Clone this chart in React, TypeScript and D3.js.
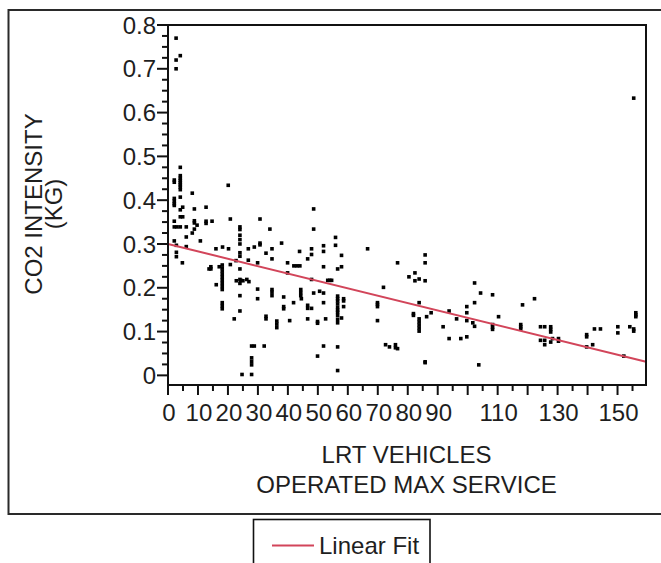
import React from "react";
import * as d3 from "d3";

// Scatter data: [LRT vehicles operated max service, CO2 intensity (kg)]
const pointsX: number[] = [
  2.7, 2.7, 4.1, 2.7, 4.1, 2.1, 2.1, 4.1, 4.1, 4.1, 4.1, 4.1, 4.1, 4.1, 8.1, 20.1,
  2.1, 2.1, 2.1, 2.1, 4.1, 4.9, 4.1, 4.1, 4.9, 2.1, 8.8, 12.7,
  2.1, 3.0, 4.1, 6.1, 8.8, 8.8, 12.7, 12.7, 14.7, 20.8,
  9.7, 8.8, 8.1, 6.1, 10.8, 2.1, 2.8, 2.8, 2.8, 6.1, 4.8, 16, 18.2, 20.2,
  18.1, 18.1, 18.1, 18.1, 18.1, 18.1, 18.1, 18.1, 18.1, 18.1, 18.1, 18.1,
  16.1, 14.3, 14.3, 13.7, 17.1, 22.1, 20.8, 22.7, 22.8, 24.3, 25, 26.3, 27,
  24, 24, 24, 24, 24, 24, 24, 24, 24, 24, 24, 24,
  30.7, 30.7, 30.7, 34, 26.8, 28.8, 32.7, 34.7, 34.7, 26.8, 29.9,
  29.9, 29.9, 32.7, 32.7, 34.7, 34.7, 34.7,
  36.3, 36.3, 36.3, 37.9, 38.6, 38.6, 38.6, 39.9, 39.9, 40.6, 41.9,
  42, 43, 44, 43.9, 44.3, 44.3, 44.3, 44.5,
  46.6, 46.6, 46.6, 47.9, 46.6, 47.9, 47.9, 47.9, 48.6, 48.6, 48.6, 49.9, 49.9, 49.9,
  50.6, 51.9, 51.9, 51.9, 51.9, 51.9, 51.9, 52.6, 53.3, 54,
  24.7, 27.9, 27.9, 28.8, 27.9, 27.9, 27.9, 32.1,
  55.9, 55.9, 57.9, 57.9, 56.6, 54.6,
  56.6, 56.6, 56.6, 56.6, 56.6, 56.6, 56.6, 56.6, 56.6, 56.6,
  58.6, 58.6, 58.6, 57.9, 56.6, 56.6,
  66.6, 71.9, 69.9, 69.9, 69.9, 69.9, 72.6, 73.9, 75.9, 75.9, 76.6, 76.6,
  80.4, 82.4, 82.4, 83.8, 85.8, 85.8, 85.8, 83.8, 81.9, 81.9,
  83.8, 83.8, 83.8, 83.8, 83.8,
  86.3, 87.8, 85.8, 85.8,
  91.8, 93.8, 93.8, 96.3, 97.7, 99.7, 99.7, 99.7, 99.7, 102.3, 102.3, 104.3, 101.7, 102.3, 103.7,
  108.3, 108.3, 108.3, 108.3, 110.3, 118.3, 117.7, 117.7, 117.7, 122.3,
  124.3, 125.7, 124.3, 125.7, 125.7, 127.7, 127.7, 127.7, 127.7, 128.3, 130.3, 130.3,
  139.7, 139.7, 139.7, 141.7, 142.3, 144.3, 150.1, 150.1, 152.1, 154.1, 155.4, 155.4,
  156.1, 156.1, 156.1, 155.4,
];
const pointsY: number[] = [
  0.77, 0.72, 0.73, 0.70, 0.475, 0.446, 0.441, 0.456, 0.45, 0.445, 0.44, 0.435, 0.43, 0.424, 0.416, 0.434,
  0.404, 0.398, 0.392, 0.388, 0.407, 0.384, 0.378, 0.362, 0.362, 0.352, 0.38, 0.384,
  0.339, 0.339, 0.339, 0.339, 0.353, 0.348, 0.352, 0.347, 0.352, 0.357,
  0.343, 0.334, 0.325, 0.316, 0.307, 0.307, 0.297, 0.281, 0.271, 0.294, 0.257, 0.289, 0.293, 0.289,
  0.252, 0.245, 0.238, 0.231, 0.224, 0.217, 0.21, 0.203, 0.196, 0.166, 0.159, 0.152,
  0.207, 0.248, 0.243, 0.243, 0.248, 0.129, 0.253, 0.262, 0.216, 0.217, 0.216, 0.219, 0.214,
  0.339, 0.333, 0.32, 0.31, 0.3, 0.28, 0.272, 0.243, 0.219, 0.21, 0.182, 0.147,
  0.357, 0.302, 0.298, 0.334, 0.289, 0.293, 0.279, 0.289, 0.266, 0.263, 0.257,
  0.197, 0.175, 0.135, 0.129, 0.196, 0.19, 0.182,
  0.124, 0.117, 0.109, 0.302, 0.179, 0.157, 0.152, 0.257, 0.234, 0.125, 0.166,
  0.25, 0.25, 0.25, 0.283, 0.196, 0.189, 0.182, 0.175,
  0.266, 0.16, 0.153, 0.153, 0.129, 0.289, 0.276, 0.219, 0.38, 0.334, 0.188, 0.123, 0.119, 0.044,
  0.192, 0.296, 0.283, 0.248, 0.188, 0.166, 0.067, 0.129, 0.217, 0.217,
  0.002, 0.002, 0.067, 0.067, 0.04, 0.032, 0.024, 0.067,
  0.315, 0.297, 0.274, 0.248, 0.243, 0.217,
  0.181, 0.175, 0.17, 0.163, 0.155, 0.149, 0.144, 0.137, 0.128, 0.12,
  0.175, 0.17, 0.157, 0.131, 0.065, 0.011,
  0.289, 0.201, 0.166, 0.162, 0.157, 0.125, 0.07, 0.065, 0.07, 0.063, 0.061, 0.257,
  0.225, 0.234, 0.216, 0.22, 0.275, 0.257, 0.216, 0.166, 0.141, 0.137,
  0.129, 0.122, 0.115, 0.108, 0.101,
  0.134, 0.143, 0.029, 0.031,
  0.111, 0.147, 0.084, 0.129, 0.084, 0.157, 0.143, 0.125, 0.088, 0.211, 0.166, 0.188, 0.12, 0.112, 0.024,
  0.184, 0.116, 0.11, 0.105, 0.134, 0.161, 0.116, 0.111, 0.106, 0.175,
  0.111, 0.111, 0.08, 0.08, 0.07, 0.111, 0.105, 0.099, 0.076, 0.084, 0.084, 0.078,
  0.093, 0.088, 0.065, 0.07, 0.106, 0.106, 0.111, 0.097, 0.044, 0.111, 0.106, 0.101,
  0.143, 0.138, 0.134, 0.633,
];

// Linear fit (intercept, slope) and its x extent
const fitIntercept = 0.3;
const fitSlope = -0.001686;
const fitRange: number[] = [0, 159.5];

const xTickLabels: number[] = [0, 10, 20, 30, 40, 50, 60, 70, 80, 90, 110, 130, 150];
const yTickLabels: number[] = [0, 0.1, 0.2, 0.3, 0.4, 0.5, 0.6, 0.7, 0.8];
const yTitle: string[] = ["CO2 INTENSITY", "(KG)"];
const xTitle: string[] = ["LRT VEHICLES", "OPERATED MAX SERVICE"];
const legendLabel = "Linear Fit";

const FONT = "'Liberation Sans', Arial, sans-serif";
const TEXT = "#1e1e1e";
const RED = "#d2455a";

export default function App() {
  const x = d3.scaleLinear().domain([0, 159.5]).range([168, 646]);
  const y = d3.scaleLinear().domain([-0.022, 0.8]).range([385, 25]);

  const xTicks = d3.range(0, 160, 5);
  const yTicks = d3.range(0, 0.8001, 0.025);

  const line = d3
    .line<number>()
    .x((d) => x(d))
    .y((d) => y(fitIntercept + fitSlope * d));

  const pts = pointsX.map((v, i) => [v, pointsY[i]]);
  const s = 3.6;

  return (
    <svg
      width={661}
      height={563}
      style={{ position: "absolute", left: 0, top: 0, background: "#fff" }}
      fontFamily={FONT}
    >
      <rect x={0} y={0} width={661} height={563} fill="#fff" />
      {/* outer frame */}
      <rect x={8.5} y={10} width={700} height={504} fill="none" stroke="#2a2a2a" strokeWidth={2} />

      {/* y ticks */}
      {yTicks.map((t, i) => {
        const major = Math.abs(Math.round(t * 10) - t * 10) < 1e-6;
        return (
          <line
            key={"yt" + i}
            x1={168}
            x2={168 - (major ? 11 : 6)}
            y1={y(t)}
            y2={y(t)}
            stroke="#111"
            strokeWidth={2}
          />
        );
      })}
      {yTickLabels.map((t) => (
        <text
          key={"yl" + t}
          x={156}
          y={y(t)}
          dy="0.36em"
          textAnchor="end"
          fontSize={24}
          fill={TEXT}
        >
          {t === 0 ? "0" : d3.format(".1f")(t)}
        </text>
      ))}

      {/* x ticks */}
      {xTicks.map((t) => {
        const major = t % 10 === 0;
        return (
          <line
            key={"xt" + t}
            x1={x(t)}
            x2={x(t)}
            y1={385}
            y2={385 + (major ? 10 : 6)}
            stroke="#111"
            strokeWidth={2}
          />
        );
      })}
      {xTickLabels.map((t) => (
        <text key={"xl" + t} x={x(t) + 1} y={421} textAnchor="middle" fontSize={24} fill={TEXT}>
          {t}
        </text>
      ))}

      {/* points */}
      {pts.map((p, i) => (
        <rect key={"p" + i} x={x(p[0]) - s / 2} y={y(p[1]) - s / 2} width={s} height={s} fill="#000" />
      ))}

      {/* fit line */}
      <path d={line(fitRange) || ""} fill="none" stroke={RED} strokeWidth={2} />

      {/* plot frame */}
      <rect x={168} y={25} width={478} height={360} fill="none" stroke="#111" strokeWidth={2} />

      {/* y title */}
      <g transform="translate(0,204) rotate(-90)" fontSize={24} fill={TEXT}>
        <text x={0} y={42} textAnchor="middle">{yTitle[0]}</text>
        <text x={0} y={62} textAnchor="middle">{yTitle[1]}</text>
      </g>

      {/* x title */}
      <text x={406.5} y={463} textAnchor="middle" fontSize={24} fill={TEXT}>{xTitle[0]}</text>
      <text x={406.5} y={493} textAnchor="middle" fontSize={24} fill={TEXT}>{xTitle[1]}</text>

      {/* legend */}
      <rect x={253.5} y={519.5} width={176.5} height={60} fill="none" stroke="#111" strokeWidth={1.6} />
      <line x1={272} x2={314} y1={545.5} y2={545.5} stroke={RED} strokeWidth={2} />
      <text x={319} y={554} fontSize={24} fill={TEXT}>{legendLabel}</text>
    </svg>
  );
}
